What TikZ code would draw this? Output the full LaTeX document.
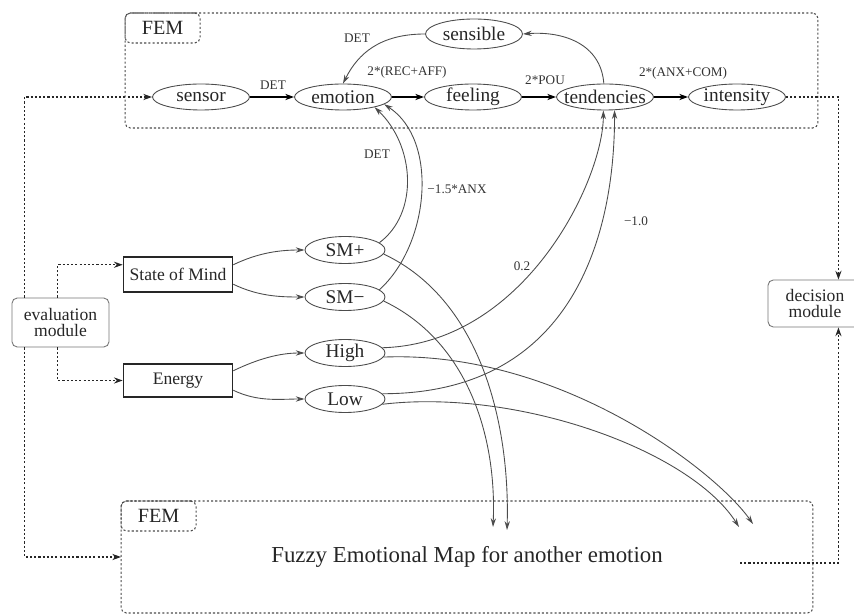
\documentclass[tikz,border=0pt]{standalone}
\usepackage{fontspec}
\setmainfont{Liberation Serif}
\usetikzlibrary{shapes.geometric, arrows.meta, calc, positioning}
\tikzset{
  fuzzy/.style={ellipse, draw=black!70, line width=0.5pt, inner xsep=-4pt, inner ysep=0pt,
    minimum width=1.94cm, minimum height=0.52cm, text=black!85, font=\fontsize{11}{12}\selectfont},
  smallfuzzy/.style={fuzzy, minimum width=1.6cm, minimum height=0.54cm}
}
\tikzset{
  inbox/.style={draw=black!85, line width=0.9pt, minimum width=2.18cm, text=black!85,
    font=\fontsize{10}{11}\selectfont},
  module/.style={draw=black!55, line width=0.5pt, rounded corners=3pt, align=center,
    text=black!85, font=\fontsize{10}{11}\selectfont}
}
\tikzset{
  femframe/.style={draw=black!70, line width=0.6pt, dash pattern=on 1.2pt off 1.2pt,
    rounded corners=3pt, outer sep=0pt, text=black!85},
  femtab/.style={femframe, minimum width=1.5cm, minimum height=0.6cm,
    font=\fontsize{11.5}{12}\selectfont},
  weight/.style={font=\fontsize{7.5}{8}\selectfont, text=black!80, inner sep=1pt},
  mainflow/.style={draw=black, line width=0.9pt, -{Stealth[length=5pt,width=3.5pt]}},
  flow/.style={draw=black!70, line width=0.5pt, -{Stealth[length=5pt,width=3pt]}},
  ctrl/.style={draw=black!85, line width=0.7pt, dash pattern=on 1.2pt off 1.2pt,
    -{Stealth[length=5pt,width=3.5pt]}}
}

\begin{document}
\begin{tikzpicture}[x=0.02cm, y=-0.02cm]
  \useasboundingbox (0,0) rectangle (854,614);
  % the two FEM frames
  \node[femframe, minimum width=13.86cm, minimum height=2.3cm] (femtop) at (471.5,70.5) {};
  \node[femtab, anchor=north west] (femtoptab) at (femtop.north west) {FEM};
  \node[femframe, minimum width=13.84cm, minimum height=2.24cm,
    font=\fontsize{13}{14}\selectfont] (fembot) at (467,557) {Fuzzy Emotional Map for another emotion};
  \node[femtab, anchor=north west] (fembottab) at (fembot.north west) {FEM};

  \node[fuzzy] (sensor) at (201,97) {sensor};
  \node[fuzzy] (emotion) at (343,97) {emotion};
  \node[fuzzy] (feeling) at (473,97) {feeling};
  \node[fuzzy] (tend) at (605,97) {tendencies};
  \node[fuzzy] (intens) at (737,97) {intensity};
  \node[fuzzy, minimum height=0.6cm] (sensible) at (474,34) {sensible};

  \node[smallfuzzy] (smplus) at (345,250) {SM+};
  \node[smallfuzzy] (smminus) at (345,297) {SM−};
  \node[smallfuzzy] (high) at (345,353) {High};
  \node[smallfuzzy] (low) at (345,399) {Low};

  \node[inbox, minimum height=0.7cm] (som) at (178,274.5) {State of Mind};
  \node[inbox, minimum height=0.66cm] (energy) at (178,380.5) {Energy};
  \node[module, minimum width=1.94cm, minimum height=0.98cm] (evalmod) at (60.5,322.5) {evaluation\\[-2pt]module};
  \node[module, minimum width=1.88cm, minimum height=0.94cm] (decmod) at (815,303.5) {decision\\[-2pt]module};

  \coordinate (inSMm) at (493,527);
  \coordinate (inSMp) at (507,530);
  \coordinate (inLow) at (739,527);
  \coordinate (inHigh) at (753,524);
  \coordinate (femout) at (740,563);

  % main chain
  \draw[mainflow] (sensor) -- (emotion);
  \draw[mainflow] (emotion) -- (feeling);
  \draw[mainflow] (feeling) -- (tend);
  \draw[mainflow] (tend) -- (intens);
  \node[weight] (wdet) at (273,85) {DET};
  \node[weight] (wrec) at (407,72) {2*(REC+AFF)};
  \node[weight] (wpou) at (545,80) {2*POU};
  \node[weight] (wanx) at (683,73) {2*(ANX+COM)};

  \draw[flow] (tend.95) .. controls +(-3,-40) and +(40,-3) .. (sensible.east);
  \draw[flow] (sensible.west) .. controls +(-45,0) and +(15,-30) .. (emotion.north);
  \node[weight] (wdetb) at (357,38) {DET};

  \draw[flow] (som.10) .. controls +(25,-12) and +(-25,0) .. (smplus.west);
  \draw[flow] (som.-10) .. controls +(25,12) and +(-25,0) .. (smminus.west);
  \draw[flow] (energy.10) .. controls +(25,-12) and +(-25,0) .. (high.west);
  \draw[flow] (energy.-10) .. controls +(25,12) and +(-25,0) .. (low.west);

  \draw[flow] (smplus.12) .. controls +(40,-30) and +(40,38) .. (emotion.-18);
  \draw[flow] (smminus.12) .. controls +(50,-45) and +(55,36) .. (emotion.-10);
  \node[weight] (wdetc) at (377,154) {DET};
  \node[weight] (wanxb) at (457,189) {−1.5*ANX};

  \draw[flow] (high.8) .. controls +(143,-4) and +(0,69) .. (tend.-97);
  \draw[flow] (low.8) .. controls +(189,0) and +(0,128) .. (tend.-54);
  \node[weight] (wpt) at (522,266) {0.2};
  \node[weight] (wone) at (636,221) {−1.0};

  \draw[flow] (smplus.-6) .. controls +(100,47) and +(3,-100) .. (inSMp);
  \draw[flow] (smminus.-6) .. controls +(80,38) and +(4,-97) .. (inSMm);
  \draw[flow] (high.-6) .. controls +(175,-7) and +(-38,-54) .. (inHigh);
  \draw[flow] (low.-8) .. controls +(135,-16) and +(-49,-77) .. (inLow);

  % dotted control lines
  \draw[ctrl] ($(evalmod.north west)+(13,0)$) |- (sensor.west);
  \draw[ctrl] ($(evalmod.north west)+(46,0)$) |- (som.170);
  \draw[ctrl] ($(evalmod.south west)+(13,0)$) |- (fembot.west);
  \draw[ctrl] ($(evalmod.south west)+(46,0)$) |- (energy.west);
  \draw[ctrl] (intens.east) -| ($(decmod.north east)+(-24,0)$);
  \draw[ctrl] (femout) -| ($(decmod.south east)+(-24,0)$);
\end{tikzpicture}
\end{document}
